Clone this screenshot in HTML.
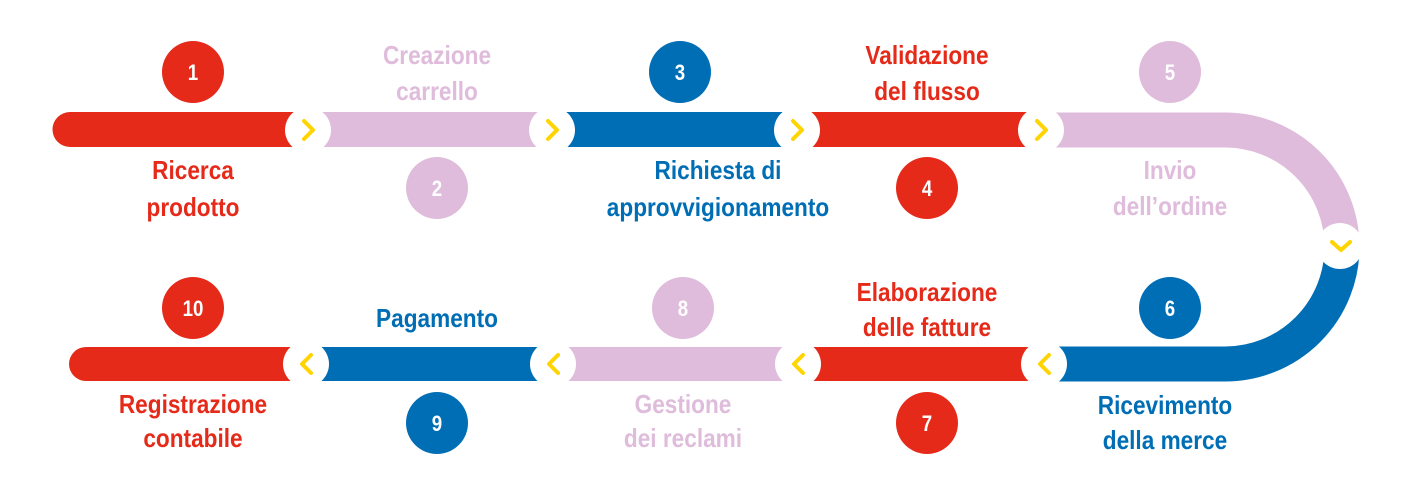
<!DOCTYPE html>
<html><head><meta charset="utf-8"><style>
html,body{margin:0;padding:0;background:#fff;}
svg{display:block;}
text{font-family:"Liberation Sans",sans-serif;font-weight:bold;}
.l{font-size:26px;text-anchor:middle;transform-box:fill-box;transform-origin:center;transform:scaleX(0.87);}
.n{font-size:22px;fill:#fff;text-anchor:middle;transform-box:fill-box;transform-origin:center;transform:scaleX(0.85);}
</style></head><body>
<svg width="1409" height="496" viewBox="0 0 1409 496" xmlns="http://www.w3.org/2000/svg">
<path d="M70,112 H305 V147 H70 A17.5,17.5 0 0 1 70,112 Z" fill="#e52a19"/>
<rect x="305" y="112" width="250" height="35" fill="#dfbcdb"/>
<rect x="555" y="112" width="245" height="35" fill="#006eb5"/>
<rect x="800" y="112" width="245" height="35" fill="#e52a19"/>
<path d="M1045,130 H1225 A117,117 0 0 1 1342,247" fill="none" stroke="#dfbcdb" stroke-width="35"/>
<path d="M1342,247 A117,117 0 0 1 1225,364 H1050" fill="none" stroke="#006eb5" stroke-width="35"/>
<path d="M86,347 H305 V381 H86 A17,17 0 0 1 86,347 Z" fill="#e52a19"/>
<rect x="305" y="347" width="250" height="34" fill="#006eb5"/>
<rect x="555" y="347" width="245" height="34" fill="#dfbcdb"/>
<rect x="800" y="347" width="250" height="34" fill="#e52a19"/>
<g fill="#fff">
<circle cx="308" cy="130" r="23"/><circle cx="552" cy="130" r="23"/><circle cx="797" cy="130" r="23"/><circle cx="1041" cy="130" r="23"/>
<circle cx="1340" cy="246" r="23"/>
<circle cx="306" cy="364" r="23"/><circle cx="553" cy="364" r="23"/><circle cx="798" cy="364" r="23"/><circle cx="1044" cy="364" r="23"/>
</g>
<g fill="none" stroke="#ffd400" stroke-width="4" stroke-linecap="round" stroke-linejoin="round">
<path d="M304,121 L313,130 L304,139"/><path d="M548,121 L557,130 L548,139"/><path d="M793,121 L802,130 L793,139"/><path d="M1037,121 L1046,130 L1037,139"/>
<path d="M1332,242 L1341,250 L1350,242"/>
<path d="M311,355 L302,364 L311,373"/><path d="M558,355 L549,364 L558,373"/><path d="M803,355 L794,364 L803,373"/><path d="M1049,355 L1040,364 L1049,373"/>
</g>
<circle cx="193" cy="72" r="31" fill="#e52a19"/><text class="n" x="193" y="80">1</text>
<circle cx="437" cy="188" r="31" fill="#dfbcdb"/><text class="n" x="437" y="196">2</text>
<circle cx="680" cy="72" r="31" fill="#006eb5"/><text class="n" x="680" y="80">3</text>
<circle cx="927" cy="188" r="31" fill="#e52a19"/><text class="n" x="927" y="196">4</text>
<circle cx="1170" cy="72" r="31" fill="#dfbcdb"/><text class="n" x="1170" y="80">5</text>
<circle cx="1170" cy="308" r="31" fill="#006eb5"/><text class="n" x="1170" y="316">6</text>
<circle cx="927" cy="423" r="31" fill="#e52a19"/><text class="n" x="927" y="431">7</text>
<circle cx="683" cy="308" r="31" fill="#dfbcdb"/><text class="n" x="683" y="316">8</text>
<circle cx="437" cy="423" r="31" fill="#006eb5"/><text class="n" x="437" y="431">9</text>
<circle cx="193" cy="308" r="31" fill="#e52a19"/><text class="n" x="193" y="316">10</text>
<text class="l" fill="#e52a19" x="193" y="179">Ricerca</text><text class="l" fill="#e52a19" x="193" y="216">prodotto</text>
<text class="l" fill="#dfbcdb" x="437" y="64">Creazione</text><text class="l" fill="#dfbcdb" x="437" y="100">carrello</text>
<text class="l" fill="#006eb5" x="718" y="179">Richiesta di</text><text class="l" fill="#006eb5" x="718" y="216">approvvigionamento</text>
<text class="l" fill="#e52a19" x="927" y="64">Validazione</text><text class="l" fill="#e52a19" x="927" y="100">del flusso</text>
<text class="l" fill="#dfbcdb" x="1170" y="179">Invio</text><text class="l" fill="#dfbcdb" x="1170" y="215">dell’ordine</text>
<text class="l" fill="#006eb5" x="1165" y="414">Ricevimento</text><text class="l" fill="#006eb5" x="1165" y="449">della merce</text>
<text class="l" fill="#e52a19" x="927" y="301">Elaborazione</text><text class="l" fill="#e52a19" x="927" y="336">delle fatture</text>
<text class="l" fill="#dfbcdb" x="683" y="413">Gestione</text><text class="l" fill="#dfbcdb" x="683" y="447">dei reclami</text>
<text class="l" fill="#006eb5" x="437" y="327">Pagamento</text>
<text class="l" fill="#e52a19" x="193" y="413">Registrazione</text><text class="l" fill="#e52a19" x="193" y="447">contabile</text>
</svg>
</body></html>
